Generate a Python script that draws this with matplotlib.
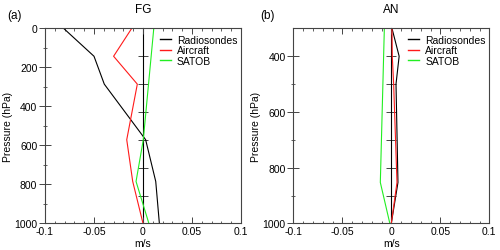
import matplotlib
matplotlib.use("Agg")
import matplotlib.pyplot as plt
from matplotlib.ticker import MultipleLocator, FixedLocator, NullFormatter

plt.rcParams['font.family'] = ['Liberation Sans', 'DejaVu Sans']

# Panel (a) FG
p_fg = [0, 143, 286, 571, 785, 1000]
fg_radio = [-0.081, -0.050, -0.0395, 0.0027, 0.013, 0.0167]
fg_air = [-0.0115, -0.030, -0.0058, -0.0166, -0.0105, 0.0]
p_fg_sat = [0, 571, 785, 1000]
fg_sat = [0.011, 0.0003, -0.0071, 0.006]

# Panel (b) AN
p_an = [300, 400, 500, 853, 1000]
an_radio = [0.0007, 0.008, 0.0048, 0.0068, 0.0]
an_air = [0.0007, 0.001, 0.0024, 0.0058, 0.0]
p_an_sat = [300, 853, 1000]
an_sat = [-0.0071, -0.0112, -0.0015]

series_names = ["Radiosondes", "Aircraft", "SATOB"]
colors = ["black", "#ff1a1a", "#22ee22"]

fig = plt.figure(figsize=(5.0, 2.51), dpi=100)
axa = fig.add_axes([0.09, 0.106, 0.392, 0.777])
axb = fig.add_axes([0.5866, 0.106, 0.392, 0.777])

spine_col = "#444444"
FS = 7.5

def style(ax, ylim, ymaj, ymin, zticks, title, tag, tagx):
    ax.set_xlim(-0.1, 0.1)
    ax.set_ylim(ylim[1], ylim[0])
    ax.xaxis.set_major_locator(FixedLocator([-0.1, -0.05, 0, 0.05, 0.1]))
    ax.set_xticklabels(["-0.1", "-0.05", "0", "0.05", "0.1"])
    ax.xaxis.set_minor_locator(MultipleLocator(0.01))
    ax.yaxis.set_major_locator(FixedLocator(ymaj))
    ax.yaxis.set_minor_locator(FixedLocator(ymin))
    ax.tick_params(axis='x', which='major', direction='in', length=4, width=0.7,
                   top=True, bottom=True, labelsize=FS, pad=2, color=spine_col)
    ax.tick_params(axis='x', which='minor', direction='in', length=1.8, width=0.6,
                   top=True, bottom=True, color=spine_col)
    ax.tick_params(axis='y', which='major', direction='inout', length=8, width=0.7,
                   labelsize=FS, pad=1.5, color=spine_col, right=False)
    ax.tick_params(axis='y', which='minor', direction='inout', length=3.5, width=0.6,
                   color=spine_col, right=False)
    for s in ax.spines.values():
        s.set_color(spine_col)
        s.set_linewidth(0.8)
    sec = ax.secondary_yaxis(0.5)
    sec.spines['left'].set_color(spine_col)
    sec.spines['left'].set_linewidth(0.8)
    sec.yaxis.set_major_locator(FixedLocator(zticks))
    sec.yaxis.set_major_formatter(NullFormatter())
    sec.tick_params(axis='y', which='major', direction='inout', length=7, width=0.7,
                    color=spine_col)
    sec.yaxis.set_minor_locator(FixedLocator([]))
    ax.text(0.5, 1.10, title, transform=ax.transAxes, fontsize=8.5,
            ha='center', va='center')
    ax.text(tagx, 1.068, tag, transform=ax.transAxes, fontsize=8.5,
            ha='center', va='center')
    ax.set_xlabel("m/s", fontsize=FS, labelpad=1)
    ax.set_ylabel("Pressure (hPa)", fontsize=FS, labelpad=1)

style(axa, (0, 1000), [0, 200, 400, 600, 800, 1000], [100, 300, 500, 700, 900],
      [1000 * k / 7 for k in range(1, 7)], "FG", "(a)", -0.156)
style(axb, (300, 1000), [400, 600, 800, 1000], [500, 700, 900],
      [400, 500, 600, 700, 800, 900], "AN", "(b)", -0.134)

lw = 0.8
axa.plot(fg_radio, p_fg, color=colors[0], lw=lw, label=series_names[0])
axa.plot(fg_air, p_fg, color=colors[1], lw=lw, label=series_names[1])
axa.plot(fg_sat, p_fg_sat, color=colors[2], lw=lw, label=series_names[2])

axb.plot(an_radio, p_an, color=colors[0], lw=lw, label=series_names[0])
axb.plot(an_air, p_an, color=colors[1], lw=lw, label=series_names[1])
axb.plot(an_sat, p_an_sat, color=colors[2], lw=lw, label=series_names[2])

for ax in (axa, axb):
    leg = ax.legend(loc='upper right', frameon=False, fontsize=FS, handlelength=1.1,
                    handletextpad=0.55, labelspacing=0.05, borderaxespad=0.15,
                    borderpad=0.2, bbox_to_anchor=(1.0, 0.985))
    for h in leg.get_lines():
        h.set_linewidth(1.0)

fig.savefig("out.png", dpi=100)
